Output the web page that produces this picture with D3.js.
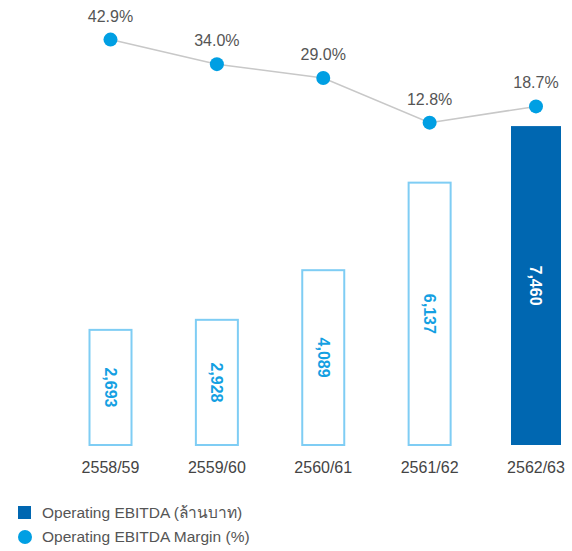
<!DOCTYPE html>
<html>
<head>
<meta charset="utf-8">
<script src="https://cdn.jsdelivr.net/npm/d3@7"></script>
<style>
  body { margin: 0; background: #fff; }
  svg text { font-family: "Liberation Sans", "Noto Sans", Arial, sans-serif; }
</style>
</head>
<body>
<div id="chart"></div>
<script>
const years = ["2558/59", "2559/60", "2560/61", "2561/62", "2562/63"];
const ebitda = [2693, 2928, 4089, 6137, 7460];
const margins = [42.9, 34.0, 29.0, 12.8, 18.7];
const legendLabels = ["Operating EBITDA (ล้านบาท)", "Operating EBITDA Margin (%)"];

const W = 572, H = 551;
const svg = d3.select("#chart").append("svg")
    .attr("width", W).attr("height", H);

const x = d3.scalePoint().domain(years).range([110.5, 536]);
const y = d3.scaleLinear().domain([0, 8000]).range([445, 103]);
const ym = d3.scaleLinear().domain([0, 50]).range([158, 20]);

const data = years.map((yr, i) => ({ yr, v: ebitda[i], m: margins[i], last: i === years.length - 1 }));

// bars
svg.selectAll(".bar")
    .data(data)
    .enter().append("rect")
    .attr("class", "bar")
    .attr("x", d => x(d.yr) - (d.last ? 25 : 21))
    .attr("width", d => d.last ? 50 : 42)
    .attr("y", d => y(d.v))
    .attr("height", d => y(0) - y(d.v))
    .attr("fill", d => d.last ? "#0067b1" : "#fff")
    .attr("stroke", d => d.last ? "none" : "#7fcdf4")
    .attr("stroke-width", 2);

// bar value labels (rotated)
svg.selectAll(".val")
    .data(data)
    .enter().append("text")
    .attr("class", "val")
    .attr("transform", d => `translate(${x(d.yr)},${(y(d.v) + y(0)) / 2}) rotate(90)`)
    .attr("text-anchor", "middle")
    .attr("dy", "0.35em")
    .attr("font-size", "16px")
    .attr("font-weight", "bold")
    .attr("fill", d => d.last ? "#fff" : "#14a0e2")
    .text(d => d3.format(",")(d.v));

// x labels
svg.selectAll(".xl")
    .data(data)
    .enter().append("text")
    .attr("class", "xl")
    .attr("x", d => x(d.yr))
    .attr("y", 473)
    .attr("text-anchor", "middle")
    .attr("font-size", "16px")
    .attr("fill", "#444")
    .text(d => d.yr);

// margin line
const line = d3.line().x(d => x(d.yr)).y(d => ym(d.m));
svg.append("path")
    .datum(data)
    .attr("d", line)
    .attr("fill", "none")
    .attr("stroke", "#c8c8c8")
    .attr("stroke-width", 1.5);

svg.selectAll(".pt")
    .data(data)
    .enter().append("circle")
    .attr("class", "pt")
    .attr("cx", d => x(d.yr))
    .attr("cy", d => ym(d.m))
    .attr("r", 7)
    .attr("fill", "#009fe3");

svg.selectAll(".ml")
    .data(data)
    .enter().append("text")
    .attr("class", "ml")
    .attr("x", d => x(d.yr))
    .attr("y", d => ym(d.m) - 18)
    .attr("text-anchor", "middle")
    .attr("font-size", "16px")
    .attr("fill", "#555")
    .text(d => d.m.toFixed(1) + "%");

// legend
const lg = svg.append("g");
lg.append("rect").attr("x", 18).attr("y", 506).attr("width", 13).attr("height", 13).attr("fill", "#0067b1");
lg.append("circle").attr("cx", 25).attr("cy", 537).attr("r", 7).attr("fill", "#009fe3");
lg.selectAll(".lt")
    .data(legendLabels)
    .enter().append("text")
    .attr("x", 42)
    .attr("y", (d, i) => 518 + i * 24)
    .attr("font-size", "15.5px")
    .attr("fill", "#555")
    .text(d => d);
</script>
</body>
</html>
